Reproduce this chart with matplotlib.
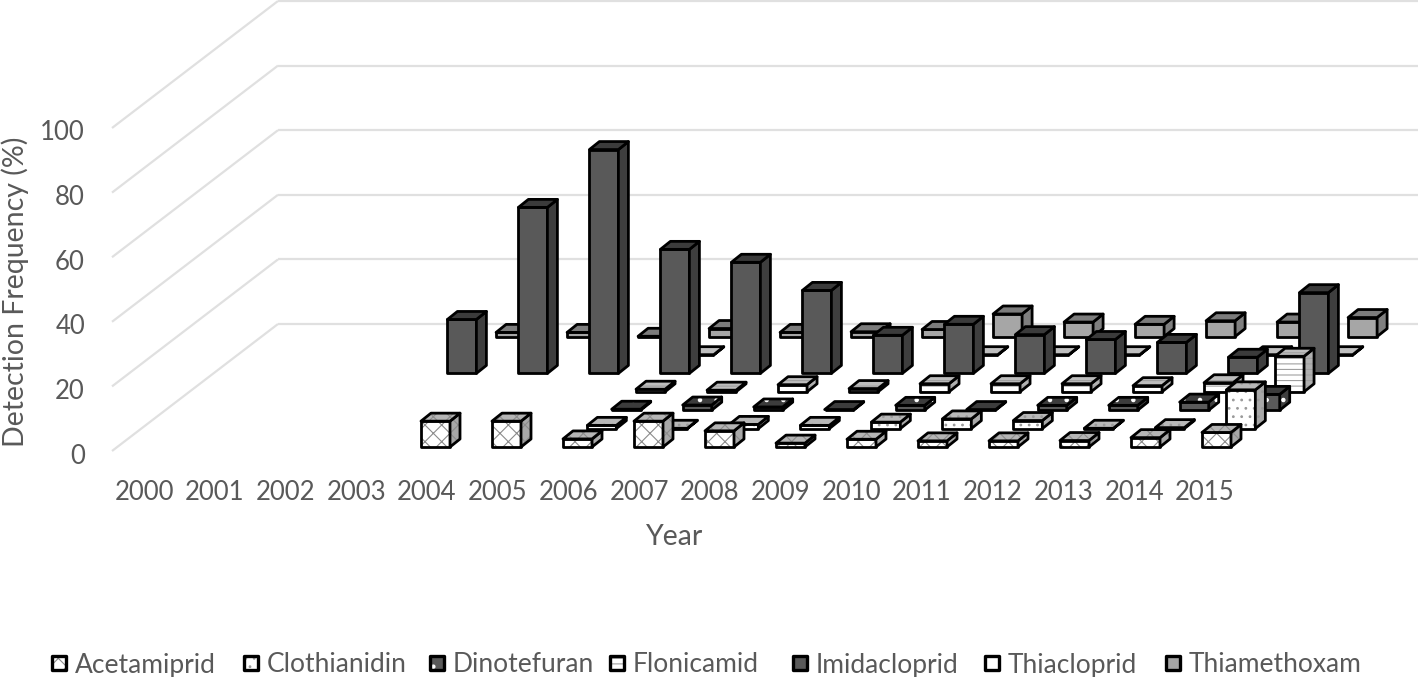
import math
import matplotlib
matplotlib.use("Agg")
import matplotlib.pyplot as plt
from matplotlib.patches import Polygon

nan = math.nan
years = list(range(2000, 2016))
yticks = [0, 20, 40, 60, 80, 100]
acetamiprid  = [nan]*4 + [8, 8, 2.5, 8, 5, 1.2, 2.4, 1.9, 1.9, 2, 2.9, 4.5]
clothianidin = [nan]*6 + [1, 0.1, 1.3, 1, 2, 3, 2.5, 0.1, 0.3, 12]
dinotefuran  = [nan]*6 + [0.3, 1.6, 1, 0.2, 1.5, 0.2, 1.5, 1.5, 2.5, 4.9]
flonicamid   = [nan]*6 + [0.8, 0.5, 2.2, 1, 2.5, 2.5, 2.5, 1.9, 2.8, 11]
imidacloprid = [nan]*3 + [16.7, 51.4, 69.3, 38.4, 34.4, 25.7, 11.8, 15.2, 12, 10.5, 9.6, 5, 25]
thiacloprid  = [nan]*6 + [0.1, nan, nan, nan, 0.1, 0.1, 0.1, nan, 0.1, 0.1]
thiamethoxam = [nan]*3 + [1.3, 1.3, 0.1, 2.5, 1.3, 1.5, 2.2, 7, 4.5, 3.8, 4.9, 4.5, 5.9]

names = ["Acetamiprid", "Clothianidin", "Dinotefuran", "Flonicamid",
         "Imidacloprid", "Thiacloprid", "Thiamethoxam"]
series = [acetamiprid, clothianidin, dinotefuran, flonicamid,
          imidacloprid, thiacloprid, thiamethoxam]

# style: front, top, side, hatch pattern, hatch colour
styles = [
    ("#ffffff", "#b5b5b5", "#a8a8a8", "xx",  "#8c8c8c"),
    ("#ffffff", "#b8b8b8", "#a8a8a8", "..", "#9a9a9a"),
    ("#5a5a5a", "#3c3c3c", "#3f3f3f", ".",  "#ffffff"),
    ("#ffffff", "#bdbdbd", "#b0b0b0", "---", "#a0a0a0"),
    ("#595959", "#3b3b3b", "#3e3e3e", None, None),
    ("#ffffff", "#bfbfbf", "#a6a6a6", None, None),
    ("#a6a6a6", "#7c7c7c", "#7f7f7f", None, None),
]

TXT = "#595959"
plt.rcParams["font.family"] = ["Lato", "DejaVu Sans"]
plt.rcParams["hatch.linewidth"] = 0.8

W, H = 1418, 677
fig = plt.figure(figsize=(W/100, H/100), dpi=100)
ax = fig.add_axes([0, 0, 1, 1])
ax.set_xlim(0, W)
ax.set_ylim(H, 0)
ax.axis("off")

PX_VAL = 3.23
X0, Y0 = 421 - 4*71, 447
DX_YEAR, DX_S, DY_S = 71, 24.35, 18.4
BW, BDX, BDY = 29, 10, 8
EDGE = 2.0


def face(pts, fc, hatch=None, hc=None, z=3, lw=EDGE):
    if hatch:
        ax.add_patch(Polygon(pts, closed=True, fc=fc, ec=hc, hatch=hatch, lw=0, zorder=z))
        ax.add_patch(Polygon(pts, closed=True, fc="none", ec="black", lw=lw,
                             joinstyle="round", zorder=z))
    else:
        ax.add_patch(Polygon(pts, closed=True, fc=fc, ec="black", lw=lw,
                             joinstyle="round", zorder=z))


for v in yticks:
    yb = 324 - v*PX_VAL
    ax.plot([278, W], [yb, yb], color="#e0e0e0", lw=1.6, zorder=1, solid_capstyle="butt")
    ax.plot([278, 112], [yb, yb + 127], color="#e0e0e0", lw=1.6, zorder=1, solid_capstyle="butt")
    ax.text(85, yb + 132, str(v), ha="right", va="center", fontsize=18.5, color=TXT)

for i, yr in enumerate(years):
    ax.text(144 + 70.73*i, 492, str(yr), ha="center", va="center", fontsize=18.5, color=TXT)

ax.text(675, 537, "Year", ha="center", va="center", fontsize=20.5, color=TXT)
ax.text(15, 292, "Detection Frequency (%)", ha="center", va="center", rotation=90,
        fontsize=20.5, color=TXT)

z = 3
for s in range(len(series) - 1, -1, -1):
    front, top, side, hatch, hc = styles[s]
    for i, v in enumerate(series[s]):
        if math.isnan(v):
            continue
        x = X0 + DX_YEAR*i + DX_S*s
        yb = Y0 - DY_S*s
        yt = yb - v*PX_VAL
        face([(x, yb), (x+BW, yb), (x+BW, yt), (x, yt)], front, hatch, hc, z)
        face([(x+BW, yb), (x+BW+BDX, yb-BDY), (x+BW+BDX, yt-BDY), (x+BW, yt)], side, hatch, hc, z)
        face([(x, yt), (x+BW, yt), (x+BW+BDX, yt-BDY), (x+BDX, yt-BDY)], top, hatch, hc, z)
        z += 0.01

legend_marker_x = [52, 244, 430, 610, 793, 985, 1166]
for mx, name, st in zip(legend_marker_x, names, styles):
    face([(mx, 656), (mx+14, 656), (mx+14, 670), (mx, 670)], st[0], st[3], st[4], 5, lw=2.4)
    ax.text(mx + 23, 665, name, ha="left", va="center", fontsize=19, color=TXT)

fig.savefig("out.png", dpi=100)
